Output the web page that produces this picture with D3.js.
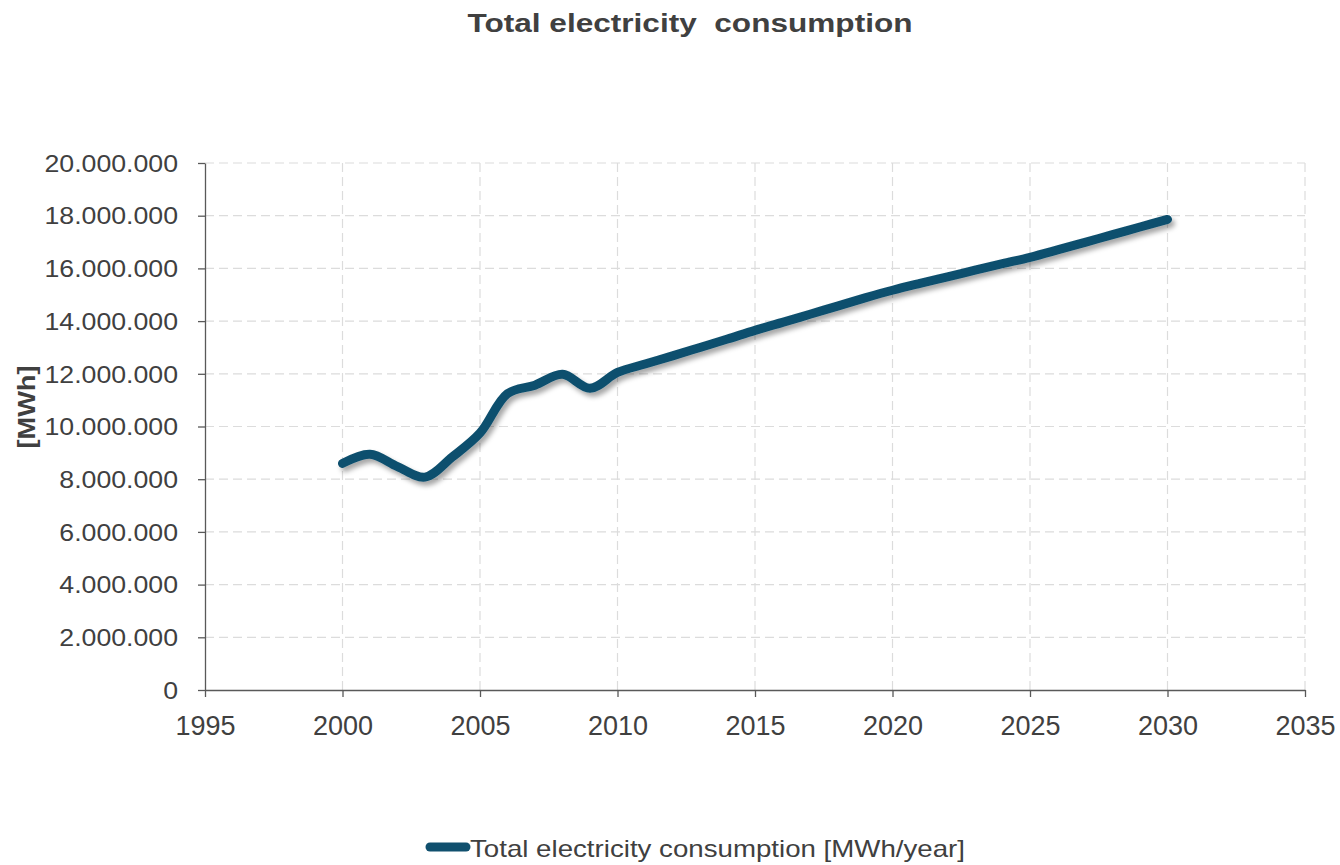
<!DOCTYPE html>
<html>
<head>
<meta charset="utf-8">
<script src="https://cdn.jsdelivr.net/npm/d3@7"></script>
<style>
  body { margin: 0; background: #fff; }
  svg { font-family: "Liberation Sans", Arial, sans-serif; }
</style>
</head>
<body>
<svg width="1340" height="865"></svg>
<script>
// data
var years = [2000, 2001, 2002, 2003, 2004, 2005, 2006, 2007, 2008, 2009, 2010,
             2011, 2012, 2013, 2014, 2015, 2016, 2017, 2018, 2019, 2020,
             2021, 2022, 2023, 2024, 2025, 2026, 2027, 2028, 2029, 2030];
var consumption = [8600000, 8950000, 8480000, 8080000, 8850000, 9750000, 11250000, 11570000, 11980000, 11450000, 12050000,
                   12370000, 12680000, 13000000, 13320000, 13650000, 13950000, 14260000, 14570000, 14880000, 15170000,
                   15430000, 15680000, 15930000, 16180000, 16420000, 16700000, 16990000, 17280000, 17570000, 17860000];
var xTicks = [1995, 2000, 2005, 2010, 2015, 2020, 2025, 2030, 2035];
var yTicks = [0, 2000000, 4000000, 6000000, 8000000, 10000000, 12000000, 14000000, 16000000, 18000000, 20000000];
var seriesName = "Total electricity consumption [MWh/year]";

var svg = d3.select("svg"),
    margin = {top: 163, right: 35, bottom: 175, left: 205},
    width = 1340 - margin.left - margin.right,
    height = 865 - margin.top - margin.bottom;

var lineColor = "#10506e",
    textColor = "#404040";

var x = d3.scaleLinear().domain([1995, 2035]).range([0, width]);
var y = d3.scaleLinear().domain([0, 20000000]).range([height, 0]);

var locale = d3.formatLocale({decimal: ",", thousands: ".", grouping: [3], currency: ["", ""]});
var fmt = locale.format(",.0f");

// shadow for the line
var defs = svg.append("defs");
var filt = defs.append("filter").attr("id", "shadow")
    .attr("x", "-10%").attr("y", "-10%").attr("width", "120%").attr("height", "120%");
filt.append("feDropShadow")
    .attr("dx", 3).attr("dy", 4).attr("stdDeviation", 2.5)
    .attr("flood-color", "#000").attr("flood-opacity", 0.35);

var g = svg.append("g").attr("transform", "translate(" + margin.left + "," + margin.top + ")");

// grid
g.append("g").selectAll("line")
    .data(yTicks.slice(1))
    .enter().append("line")
    .attr("x1", 0).attr("x2", width)
    .attr("y1", function (d) { return y(d); })
    .attr("y2", function (d) { return y(d); })
    .attr("stroke", "#dcdcdc").attr("stroke-width", 1.2)
    .attr("stroke-dasharray", "9,5");

g.append("g").selectAll("line")
    .data(xTicks.slice(1))
    .enter().append("line")
    .attr("y1", 0).attr("y2", height)
    .attr("x1", function (d) { return x(d); })
    .attr("x2", function (d) { return x(d); })
    .attr("stroke", "#dcdcdc").attr("stroke-width", 1.2)
    .attr("stroke-dasharray", "9,5");

// axes
var xAxis = g.append("g")
    .attr("transform", "translate(0," + height + ")")
    .call(d3.axisBottom(x).tickValues(xTicks).tickFormat(d3.format("d")).tickSize(7).tickSizeOuter(0));
xAxis.selectAll("text")
    .attr("dy", "0")
    .attr("y", 45)
    .style("font-size", "27px")
    .attr("fill", textColor);

var yAxis = g.append("g")
    .call(d3.axisLeft(y).tickValues(yTicks).tickFormat(fmt).tickSize(7).tickSizeOuter(0));
yAxis.selectAll("text")
    .attr("x", -27)
    .attr("dy", "0.36em")
    .style("font-size", "23px")
    .attr("fill", textColor)
    .each(function () {
        var w = this.getComputedTextLength();
        d3.select(this).attr("textLength", w * 1.16).attr("lengthAdjust", "spacingAndGlyphs");
    });

g.selectAll(".domain").attr("stroke", "#595959").attr("stroke-width", 1.3);
g.selectAll(".tick line").attr("stroke", "#595959").attr("stroke-width", 1.3);

// the series
var line = d3.line()
    .x(function (d, i) { return x(years[i]); })
    .y(function (d) { return y(d); })
    .curve(d3.curveCatmullRom.alpha(0.5));

g.append("path")
    .datum(consumption)
    .attr("d", line)
    .attr("fill", "none")
    .attr("stroke", lineColor)
    .attr("stroke-width", 9)
    .attr("stroke-linecap", "round")
    .attr("stroke-linejoin", "round")
    .attr("filter", "url(#shadow)");

// title
svg.append("text")
    .attr("x", 690).attr("y", 32)
    .attr("text-anchor", "middle")
    .style("font-size", "26px").style("font-weight", "bold")
    .style("white-space", "pre")
    .attr("fill", textColor)
    .attr("textLength", 445).attr("lengthAdjust", "spacingAndGlyphs")
    .text("Total electricity  consumption");

// y axis title
svg.append("text")
    .attr("transform", "translate(35,407) rotate(-90)")
    .attr("text-anchor", "middle")
    .style("font-size", "24px").style("font-weight", "bold")
    .attr("fill", textColor)
    .attr("textLength", 83).attr("lengthAdjust", "spacingAndGlyphs")
    .text("[MWh]");

// legend
var legend = svg.append("g");
legend.append("line")
    .attr("x1", 430).attr("x2", 466)
    .attr("y1", 847).attr("y2", 847)
    .attr("stroke", lineColor).attr("stroke-width", 9)
    .attr("stroke-linecap", "round");
legend.append("text")
    .attr("x", 470).attr("y", 857)
    .style("font-size", "24px")
    .attr("fill", textColor)
    .attr("textLength", 495).attr("lengthAdjust", "spacingAndGlyphs")
    .text(seriesName);
</script>
</body>
</html>
